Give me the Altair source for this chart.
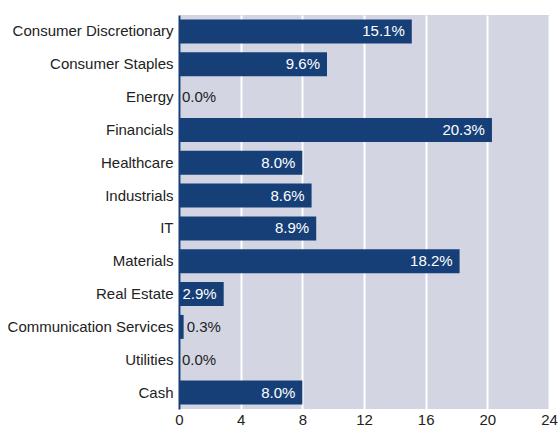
import altair as alt
import pandas as pd

sectors = ["Consumer Discretionary", "Consumer Staples", "Energy", "Financials",
           "Healthcare", "Industrials", "IT", "Materials", "Real Estate",
           "Communication Services", "Utilities", "Cash"]
weights = [15.1, 9.6, 0.0, 20.3, 8.0, 8.6, 8.9, 18.2, 2.9, 0.3, 0.0, 8.0]
x_ticks = [0, 4, 8, 12, 16, 20, 24]

df = pd.DataFrame({"sector": sectors, "weight": weights})
df["label"] = [f"{v:.1f}%" for v in weights]
df["inside"] = df["weight"] >= 2

NAVY = "#163f78"
FONT = "Liberation Sans"
FS = 15

y = alt.Y("sector:N", sort=sectors, title=None,
          scale=alt.Scale(paddingInner=0.27, paddingOuter=0.135),
          axis=alt.Axis(labelFont=FONT, labelFontSize=FS, labelColor="#222222",
                        labelPadding=6, ticks=False, domainColor=NAVY,
                        domainWidth=2, grid=False))
x = alt.X("weight:Q", title=None,
          scale=alt.Scale(domain=[0, 24], nice=False),
          axis=alt.Axis(values=x_ticks, labelFont=FONT, labelFontSize=FS,
                        labelColor="#222222", ticks=False, domain=False,
                        labelPadding=3, gridColor="white", gridWidth=2,
                        gridOpacity=1, labelFlush=False))

bars = alt.Chart(df).mark_bar(color=NAVY).encode(x=x, y=y)

inside = alt.Chart(df).transform_filter("datum.inside").mark_text(
    align="right", dx=-7, color="white", font=FONT, fontSize=FS
).encode(x="weight:Q", y=alt.Y("sector:N", sort=sectors), text="label:N")

outside = alt.Chart(df).transform_filter("!datum.inside").mark_text(
    align="left", dx=3, color="#222222", font=FONT, fontSize=FS
).encode(x="weight:Q", y=alt.Y("sector:N", sort=sectors), text="label:N")

chart = (bars + inside + outside).properties(
    width=370, height=394,
    padding={"left": 179, "top": 15, "right": 9, "bottom": 19},
    autosize=alt.AutoSizeParams(type="none"),
    background="white",
).configure_view(fill="#d3d5e3", stroke=None)

chart.save("out.html", embed_options={"renderer": "svg", "actions": False})
